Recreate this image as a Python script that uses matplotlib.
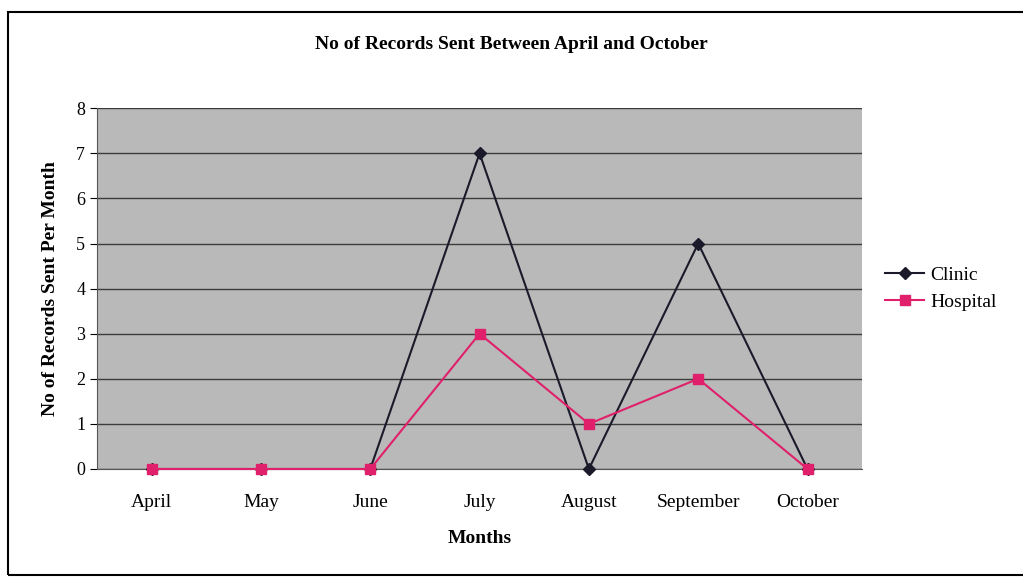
import matplotlib
matplotlib.use("Agg")
import matplotlib.pyplot as plt
from matplotlib.patches import Rectangle

# datos del grafico
meses = ["April", "May", "June", "July", "August", "September", "October"]
clinic = [0, 0, 0, 7, 0, 5, 0]
hospital = [0, 0, 0, 3, 1, 2, 0]

plt.rcParams["font.family"] = ["Liberation Serif", "DejaVu Serif"]

fig = plt.figure(figsize=(10.23, 5.8), dpi=100)
ax = fig.add_axes([0.0948, 0.1914, 0.748, 0.622])

# marco exterior del grafico
fig.patches.append(Rectangle((0.008, 0.008), 1.2, 0.972, transform=fig.transFigure,
                             fill=False, edgecolor="black", linewidth=1.5))

ax.set_facecolor("#b9b9b9")
x = range(len(meses))
ax.plot(x, clinic, color="#1a1a2a", marker="D", markersize=6, linewidth=1.5,
        label="Clinic", clip_on=False, zorder=3)
ax.plot(x, hospital, color="#e0206a", marker="s", markersize=7, linewidth=1.5,
        label="Hospital", clip_on=False, zorder=4)

ax.set_xlim(-0.5, len(meses) - 0.5)
ax.set_ylim(0, 8)
ax.set_yticks(range(0, 9))
ax.set_xticks(list(x))
ax.set_xticklabels(meses, fontsize=14)
ax.tick_params(axis="y", labelsize=13, length=5)
ax.tick_params(axis="x", length=0, pad=18)
ax.yaxis.grid(True, color="#3c3c3c", linewidth=1)
ax.set_axisbelow(True)
for lado in ["top", "right"]:
    ax.spines[lado].set_visible(False)
ax.spines["left"].set_color("#555555")
ax.spines["bottom"].set_color("#555555")

ax.set_xlabel("Months", fontsize=14, fontweight="bold", labelpad=14)
ax.set_ylabel("No of Records Sent Per Month", fontsize=14, fontweight="bold", labelpad=12)
fig.text(0.5, 0.915, "No of Records Sent Between April and October", ha="center",
         fontsize=14, fontweight="bold")

ley = ax.legend(loc="center left", bbox_to_anchor=(1.02, 0.5), fontsize=14, frameon=False,
                handlelength=2.0, borderpad=0.2, handletextpad=0.3, borderaxespad=0.2)

fig.savefig("out.png", dpi=100)
